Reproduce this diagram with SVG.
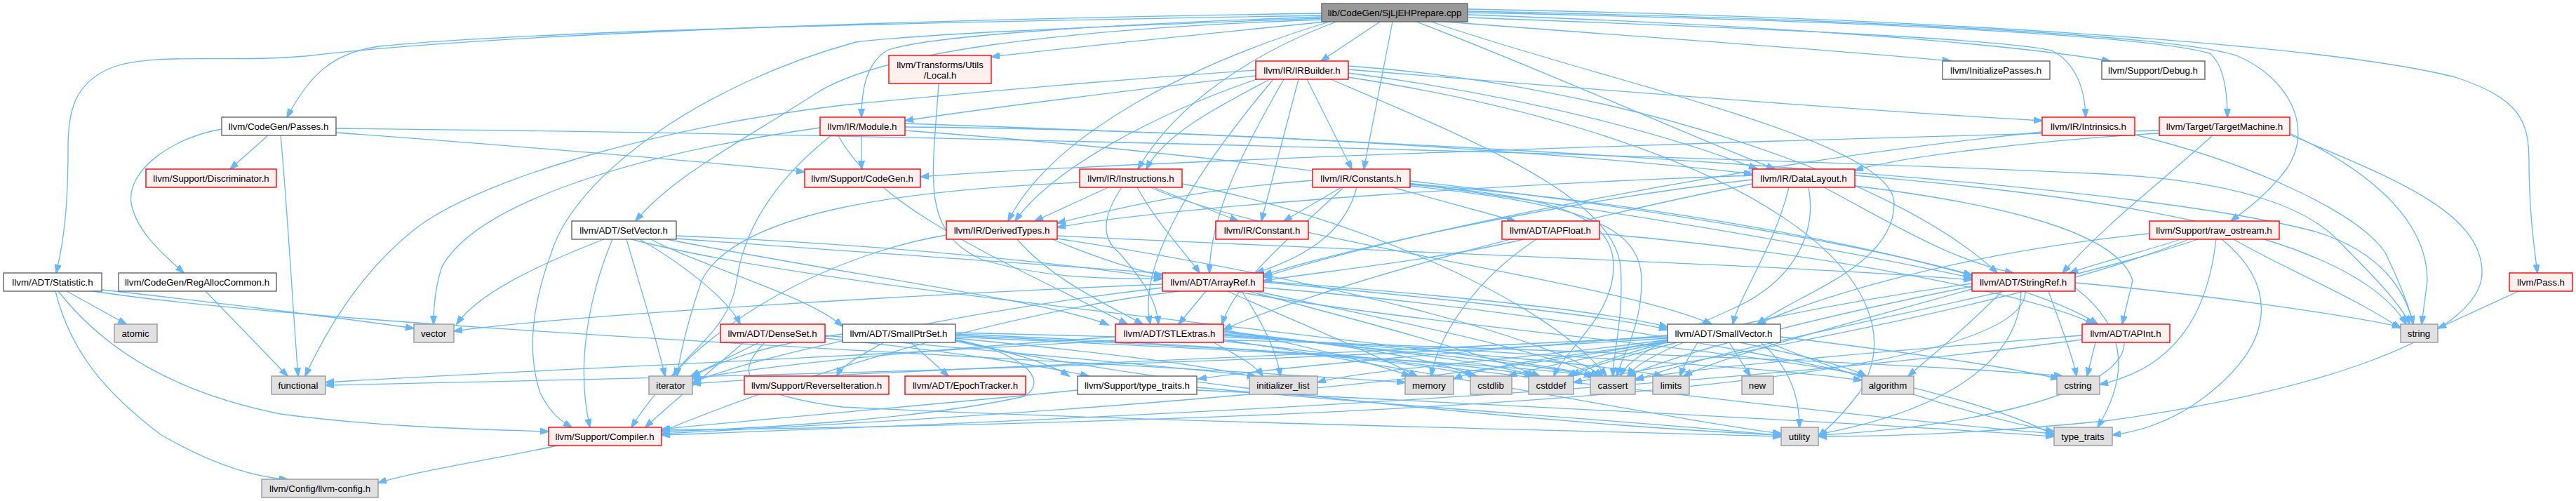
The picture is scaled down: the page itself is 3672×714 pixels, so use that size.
<svg xmlns="http://www.w3.org/2000/svg" width="3672" height="714" viewBox="0 0 3672 714">
<defs>
<style>
.n rect{stroke-width:1.4}
.w rect{fill:#ffffff;stroke:#666666}
.r rect{fill:#fff0f0;stroke:#ff0000}
.g rect{fill:#e0e0e0;stroke:#999999}
.t rect{fill:#999999;stroke:#666666}
text{font-family:"Liberation Sans",Arial,Helvetica,sans-serif;font-size:13.3px;text-anchor:middle;fill:#000000}
#edges path{fill:none;stroke:#63b8ff;stroke-width:1.3;marker-end:url(#a)}
</style>
<marker id="a" markerUnits="userSpaceOnUse" markerWidth="14" markerHeight="10" refX="12" refY="4.5" orient="auto"><path d="M0,0 L13,4.5 L0,9 Z" fill="#63b8ff" stroke="#63b8ff"/></marker>
</defs>
<rect width="3672" height="714" fill="#ffffff"/>
<g id="edges">
<path d="M1884,19 C1300,28 700,48 435,80 C330,90 220,74 160,96 C105,118 97,160 97,210 C97,290 92,340 80,389"/>
<path d="M1884,22 C1300,32 760,44 540,66 C470,76 440,110 409,167"/>
<path d="M1884,28 C1500,42 1250,75 1160,135 C1060,200 960,250 906,315"/>
<path d="M1884,24 C1600,34 1320,50 1264,72 C1236,90 1228,125 1228,167"/>
<path d="M1890,31 C1700,50 1520,68 1413,81"/>
<path d="M1967,31 L1883,87"/>
<path d="M1905,31 C1800,70 1680,140 1622,241"/>
<path d="M1895,31 C1700,90 1500,190 1437,315"/>
<path d="M1985,31 L1944,241"/>
<path d="M2019,31 C2200,100 2400,190 2530,241"/>
<path d="M2060,31 C2300,50 2600,70 2781,87"/>
<path d="M2092,25 C2500,40 2850,55 2925,72 C2962,92 2972,130 2973,167"/>
<path d="M2092,21 C2500,35 2850,60 3008,87"/>
<path d="M2092,18 C2600,28 3050,48 3150,76 C3170,92 3175,130 3175,167"/>
<path d="M2092,16 C2600,26 3100,48 3190,80 C3260,110 3300,180 3260,240 C3230,280 3200,300 3180,315"/>
<path d="M2092,13 C2700,24 3300,60 3500,110 C3590,140 3605,170 3605,230 C3605,300 3612,350 3617,389"/>
<path d="M2040,31 C2300,120 2700,200 2700,290 C2700,380 2560,420 2505,462"/>
<path d="M1884,26 C1500,40 1300,50 1220,60 C1000,120 820,250 786,360 C760,430 750,500 770,560 C785,590 800,600 815,609"/>
<path d="M1790,108 C1600,130 1400,155 1290,172"/>
<path d="M1810,113 C1740,150 1660,190 1634,241"/>
<path d="M1800,110 C1650,160 1500,240 1447,315"/>
<path d="M1863,113 L1927,241"/>
<path d="M1851,113 L1798,315"/>
<path d="M1922,104 C2200,140 2400,200 2505,241"/>
<path d="M1922,99 C2300,130 2700,160 2911,172"/>
<path d="M1790,100 C1500,120 1300,140 1200,150 C950,180 700,250 600,320 C520,380 470,460 435,536"/>
<path d="M1897,113 C2100,200 2300,280 2310,380 C2315,450 2300,500 2299,536"/>
<path d="M1830,113 C1780,200 1725,300 1724,389"/>
<path d="M1815,113 C1700,250 1620,380 1640,462"/>
<path d="M1922,110 C2500,200 2750,400 2650,560 C2620,600 2600,615 2592,622"/>
<path d="M1922,94 C2300,120 2700,250 2847,389"/>
<path d="M1338,119 C1330,250 1310,330 1400,370 C1500,400 1600,397 1657,397"/>
<path d="M382,193 L328,241"/>
<path d="M316,184 C250,195 180,240 187,290 C195,330 230,360 262,389"/>
<path d="M400,193 C410,300 418,450 425,536"/>
<path d="M479,189 C700,205 1000,230 1147,245"/>
<path d="M479,183 C1200,190 2400,220 3000,248 C3200,258 3290,300 3330,340 C3380,390 3420,430 3435,462"/>
<path d="M1228,193 L1228,241"/>
<path d="M1290,181 C1800,185 2300,225 2498,248"/>
<path d="M1169,182 C900,220 680,290 630,380 C620,410 618,440 618,462"/>
<path d="M1185,193 C1100,260 1060,330 1050,400 C1040,470 980,500 960,536"/>
<path d="M1195,193 C1250,300 1450,380 1607,462"/>
<path d="M1290,186 C1900,230 2500,330 2811,396"/>
<path d="M1290,176 C2000,200 3000,250 3300,330 C3400,360 3430,420 3440,462"/>
<path d="M2911,188 C2500,230 2000,330 1801,395"/>
<path d="M3043,192 C3200,230 3360,300 3400,360 C3420,400 3435,440 3440,462"/>
<path d="M3078,190 C2900,200 2700,225 2644,243"/>
<path d="M3078,186 C2500,200 1600,230 1312,252"/>
<path d="M3154,193 C3080,260 3000,320 2940,389"/>
<path d="M3264,190 C3350,230 3460,300 3460,400 L3452,462"/>
<path d="M3264,192 C3400,250 3540,300 3538,390 C3535,480 3300,560 3000,600 C2800,620 2650,622 2592,622"/>
<path d="M3064,333 C2800,360 2600,420 2505,462"/>
<path d="M3109,341 C3050,360 2990,375 2950,389"/>
<path d="M3133,341 C2900,420 2500,480 2331,542"/>
<path d="M3120,341 C2900,430 2500,500 2243,545"/>
<path d="M3159,341 C3150,420 3120,520 2993,548"/>
<path d="M3184,341 C3250,380 3350,420 3422,468"/>
<path d="M3167,341 C3240,400 3250,480 3150,560 C3100,600 3050,615 3011,620"/>
<path d="M3590,415 L3475,468"/>
<path d="M1580,267 L1475,315"/>
<path d="M1645,267 L1765,315"/>
<path d="M1621,267 C1650,320 1690,360 1710,389"/>
<path d="M1599,267 C1570,310 1570,340 1595,360 C1630,400 1650,430 1651,462"/>
<path d="M1640,267 C1800,340 2300,400 2440,462"/>
<path d="M1539,260 C1300,270 1050,300 1000,400 C980,460 970,500 965,536"/>
<path d="M1685,262 C1900,300 2200,420 2290,536"/>
<path d="M1912,267 L1830,315"/>
<path d="M1985,267 L2160,315"/>
<path d="M1871,257 C1700,270 1580,300 1507,318"/>
<path d="M2498,250 C2200,260 1700,290 1507,324"/>
<path d="M2010,262 C2500,300 2900,400 2990,462"/>
<path d="M1934,267 C1920,320 1880,360 1790,389"/>
<path d="M1915,267 C1860,320 1760,400 1742,462"/>
<path d="M2010,258 C2400,300 2700,360 2811,392"/>
<path d="M2010,263 C2200,280 2300,300 2300,380 C2300,450 2230,500 2215,536"/>
<path d="M2010,265 C2250,290 2340,320 2340,400 C2340,470 2310,510 2305,536"/>
<path d="M2498,256 C2200,290 1900,360 1801,392"/>
<path d="M2498,262 C2200,320 1850,420 1744,470"/>
<path d="M2550,267 C2530,350 2480,420 2470,462"/>
<path d="M2600,267 C2700,320 2780,370 2870,389"/>
<path d="M2644,265 C2850,290 3020,330 3040,400 L3025,462"/>
<path d="M2578,267 C2590,330 2560,400 2470,440 C2380,480 2320,510 2310,536"/>
<path d="M2644,250 C3000,280 3350,330 3430,462"/>
<path d="M2280,333 C2600,360 2900,420 2985,462"/>
<path d="M2172,341 C2050,370 1900,385 1801,400"/>
<path d="M2190,341 C2100,400 2050,480 2040,536"/>
<path d="M1500,341 C1570,370 1620,385 1657,393"/>
<path d="M1450,341 C1500,400 1590,440 1629,462"/>
<path d="M1507,336 C2000,360 2600,380 2811,399"/>
<path d="M1349,335 C1200,360 1000,450 900,609"/>
<path d="M1507,340 C1900,400 2200,480 2285,536"/>
<path d="M964,336 C1300,350 1550,380 1657,397"/>
<path d="M912,341 C980,380 1040,430 1055,462"/>
<path d="M928,341 C1000,380 1150,420 1201,465"/>
<path d="M950,341 C1200,390 1500,430 1580,463"/>
<path d="M964,340 C1500,380 2200,420 2377,466"/>
<path d="M873,341 C840,420 820,520 841,609"/>
<path d="M900,341 C1200,420 2000,480 2280,536"/>
<path d="M893,341 C910,400 935,480 948,536"/>
<path d="M861,341 C760,380 680,420 651,462"/>
<path d="M95,415 L180,462"/>
<path d="M145,413 C300,430 500,455 590,468"/>
<path d="M79,415 C100,500 150,560 230,620 C300,660 360,680 410,683"/>
<path d="M83,415 C150,500 250,560 400,590 C550,610 700,612 782,615"/>
<path d="M132,415 C500,470 1500,510 2003,545"/>
<path d="M293,415 L410,536"/>
<path d="M1719,415 L1680,462"/>
<path d="M1801,402 C2000,420 2300,450 2377,470"/>
<path d="M1680,415 C1400,450 1100,550 943,615"/>
<path d="M1760,415 C2000,460 2500,500 2660,536"/>
<path d="M1790,415 C2000,460 2200,500 2280,536"/>
<path d="M1780,415 C1950,460 2100,500 2195,536"/>
<path d="M1770,415 C1800,460 1820,500 1825,536"/>
<path d="M1657,410 C1400,440 1100,500 987,545"/>
<path d="M1750,415 C1850,460 1950,500 2020,536"/>
<path d="M1801,410 C2300,450 2800,550 2928,620"/>
<path d="M1657,405 C1300,420 800,450 647,472"/>
<path d="M1744,480 C2100,500 2500,520 2654,542"/>
<path d="M1744,476 C2000,500 2200,520 2270,536"/>
<path d="M1744,474 C1950,495 2120,515 2190,536"/>
<path d="M1744,472 C1900,490 2050,510 2100,536"/>
<path d="M1590,485 C1200,510 700,530 464,545"/>
<path d="M1730,488 C1760,505 1790,520 1800,536"/>
<path d="M1590,480 C1300,500 1100,520 987,540"/>
<path d="M1744,478 C2050,500 2300,520 2370,536"/>
<path d="M1744,470 C1850,490 1950,515 2010,536"/>
<path d="M1744,486 C2200,540 2700,600 2928,618"/>
<path d="M1744,484 C2100,540 2400,600 2539,618"/>
<path d="M2377,485 C2000,560 1300,600 943,618"/>
<path d="M2377,478 C2100,500 1850,520 1708,540"/>
<path d="M2480,488 C2560,505 2630,520 2660,536"/>
<path d="M2400,488 C2370,500 2330,520 2320,536"/>
<path d="M2390,488 C2330,505 2270,520 2240,536"/>
<path d="M2380,486 C2300,505 2200,520 2150,536"/>
<path d="M2538,480 C2700,500 2850,520 2935,540"/>
<path d="M2377,482 C1800,520 900,540 464,549"/>
<path d="M2377,484 C2200,510 1950,525 1878,545"/>
<path d="M2377,480 C1800,510 1200,530 987,547"/>
<path d="M2420,488 C2410,505 2400,520 2395,536"/>
<path d="M2378,487 C2250,505 2120,520 2072,540"/>
<path d="M2465,488 L2495,536"/>
<path d="M2520,488 C2700,560 2850,600 2928,615"/>
<path d="M2510,488 C2560,530 2565,580 2565,609"/>
<path d="M2968,484 C2400,560 1500,600 943,620"/>
<path d="M2968,478 C2700,500 2450,520 2331,540"/>
<path d="M2987,488 L2975,536"/>
<path d="M3028,488 C3030,560 2800,610 2592,620"/>
<path d="M2854,415 C2800,470 2750,510 2720,536"/>
<path d="M2881,415 C2880,500 2800,580 2592,619"/>
<path d="M2887,415 C2890,550 2000,600 943,613"/>
<path d="M2811,408 C2600,450 2400,500 2320,536"/>
<path d="M2811,404 C2550,440 2300,500 2235,536"/>
<path d="M2920,415 C2940,470 2955,510 2960,536"/>
<path d="M2811,412 C2600,470 2450,510 2400,536"/>
<path d="M2958,403 C3150,420 3350,450 3422,466"/>
<path d="M2958,410 C3050,480 3020,560 2990,609"/>
<path d="M1536,556 C1300,580 1050,600 943,612"/>
<path d="M1706,556 C2200,580 2700,605 2928,622"/>
<path d="M1706,552 C2000,580 2400,605 2539,621"/>
<path d="M1082,488 L985,536"/>
<path d="M1090,488 C1050,530 1050,560 1200,580 C1600,600 2300,615 2539,622"/>
<path d="M1176,482 C1350,500 1480,520 1552,536"/>
<path d="M1060,488 C1000,540 950,580 920,609"/>
<path d="M1176,478 C1400,500 1650,520 1790,536"/>
<path d="M1260,488 C1230,505 1200,520 1193,536"/>
<path d="M1298,488 L1352,536"/>
<path d="M1362,485 C1440,500 1500,520 1524,536"/>
<path d="M1362,484 C1450,500 1500,540 1460,565 C1300,600 1050,612 943,615"/>
<path d="M1362,480 C1800,500 2150,520 2275,536"/>
<path d="M1362,478 C1750,495 2100,515 2185,536"/>
<path d="M1362,476 C1700,490 2000,510 2105,536"/>
<path d="M1362,474 C2000,490 2700,515 2940,536"/>
<path d="M1362,482 C1550,500 1720,520 1790,538"/>
<path d="M1201,476 C1100,490 1020,515 987,538"/>
<path d="M1362,486 C1700,560 2300,610 2539,620"/>
<path d="M795,635 C700,655 600,670 539,688"/>
</g>
<g id="n_top" class="n t"><rect x="1884" y="5" width="208" height="26"/><text x="1988" y="23">lib/CodeGen/SjLjEHPrepare.cpp</text></g>
<g id="n_irbuilder" class="n r"><rect x="1790" y="87" width="132" height="26"/><text x="1856" y="105">llvm/IR/IRBuilder.h</text></g>
<g id="n_initpasses" class="n w"><rect x="2769" y="87" width="153" height="26"/><text x="2845" y="105">llvm/InitializePasses.h</text></g>
<g id="n_debug" class="n w"><rect x="2996" y="87" width="147" height="26"/><text x="3069" y="105">llvm/Support/Debug.h</text></g>
<g id="n_local" class="n r"><rect x="1267" y="79" width="146" height="40"/><text x="1340" y="97">llvm/Transforms/Utils</text><text x="1340" y="112">/Local.h</text></g>
<g id="n_passes" class="n w"><rect x="316" y="167" width="163" height="26"/><text x="397" y="185">llvm/CodeGen/Passes.h</text></g>
<g id="n_module" class="n r"><rect x="1169" y="167" width="121" height="26"/><text x="1229" y="185">llvm/IR/Module.h</text></g>
<g id="n_intrinsics" class="n r"><rect x="2911" y="167" width="132" height="26"/><text x="2977" y="185">llvm/IR/Intrinsics.h</text></g>
<g id="n_targetmachine" class="n r"><rect x="3078" y="167" width="186" height="26"/><text x="3171" y="185">llvm/Target/TargetMachine.h</text></g>
<g id="n_discriminator" class="n r"><rect x="208" y="241" width="186" height="26"/><text x="301" y="259">llvm/Support/Discriminator.h</text></g>
<g id="n_codegen" class="n r"><rect x="1147" y="241" width="165" height="26"/><text x="1229" y="259">llvm/Support/CodeGen.h</text></g>
<g id="n_instructions" class="n r"><rect x="1539" y="241" width="146" height="26"/><text x="1612" y="259">llvm/IR/Instructions.h</text></g>
<g id="n_constants" class="n r"><rect x="1871" y="241" width="139" height="26"/><text x="1940" y="259">llvm/IR/Constants.h</text></g>
<g id="n_datalayout" class="n r"><rect x="2498" y="241" width="146" height="26"/><text x="2571" y="259">llvm/IR/DataLayout.h</text></g>
<g id="n_setvector" class="n w"><rect x="815" y="315" width="149" height="26"/><text x="889" y="333">llvm/ADT/SetVector.h</text></g>
<g id="n_derivedtypes" class="n r"><rect x="1349" y="315" width="158" height="26"/><text x="1428" y="333">llvm/IR/DerivedTypes.h</text></g>
<g id="n_constant" class="n r"><rect x="1733" y="315" width="132" height="26"/><text x="1799" y="333">llvm/IR/Constant.h</text></g>
<g id="n_apfloat" class="n r"><rect x="2141" y="315" width="139" height="26"/><text x="2210" y="333">llvm/ADT/APFloat.h</text></g>
<g id="n_rawostream" class="n r"><rect x="3064" y="315" width="185" height="26"/><text x="3156" y="333">llvm/Support/raw_ostream.h</text></g>
<g id="n_statistic" class="n w"><rect x="5" y="389" width="140" height="26"/><text x="75" y="407">llvm/ADT/Statistic.h</text></g>
<g id="n_regalloc" class="n w"><rect x="169" y="389" width="225" height="26"/><text x="281" y="407">llvm/CodeGen/RegAllocCommon.h</text></g>
<g id="n_arrayref" class="n r"><rect x="1657" y="389" width="144" height="26"/><text x="1729" y="407">llvm/ADT/ArrayRef.h</text></g>
<g id="n_stringref" class="n r"><rect x="2811" y="389" width="147" height="26"/><text x="2884" y="407">llvm/ADT/StringRef.h</text></g>
<g id="n_pass" class="n r"><rect x="3577" y="389" width="90" height="26"/><text x="3622" y="407">llvm/Pass.h</text></g>
<g id="n_atomic" class="n g"><rect x="163" y="462" width="61" height="26"/><text x="193" y="480">atomic</text></g>
<g id="n_vector" class="n g"><rect x="590" y="462" width="57" height="26"/><text x="618" y="480">vector</text></g>
<g id="n_denseset" class="n r"><rect x="1027" y="462" width="149" height="26"/><text x="1101" y="480">llvm/ADT/DenseSet.h</text></g>
<g id="n_smallptrset" class="n w"><rect x="1201" y="462" width="161" height="26"/><text x="1281" y="480">llvm/ADT/SmallPtrSet.h</text></g>
<g id="n_stlextras" class="n r"><rect x="1590" y="462" width="154" height="26"/><text x="1667" y="480">llvm/ADT/STLExtras.h</text></g>
<g id="n_smallvector" class="n w"><rect x="2377" y="462" width="161" height="26"/><text x="2457" y="480">llvm/ADT/SmallVector.h</text></g>
<g id="n_apint" class="n r"><rect x="2968" y="462" width="125" height="26"/><text x="3030" y="480">llvm/ADT/APInt.h</text></g>
<g id="n_string" class="n g"><rect x="3422" y="462" width="53" height="26"/><text x="3448" y="480">string</text></g>
<g id="n_functional" class="n g"><rect x="387" y="536" width="77" height="26"/><text x="425" y="554">functional</text></g>
<g id="n_iterator" class="n g"><rect x="925" y="536" width="62" height="26"/><text x="956" y="554">iterator</text></g>
<g id="n_reverseiter" class="n r"><rect x="1061" y="536" width="206" height="26"/><text x="1164" y="554">llvm/Support/ReverseIteration.h</text></g>
<g id="n_epoch" class="n r"><rect x="1290" y="536" width="172" height="26"/><text x="1376" y="554">llvm/ADT/EpochTracker.h</text></g>
<g id="n_typetraitsh" class="n w"><rect x="1536" y="536" width="170" height="26"/><text x="1621" y="554">llvm/Support/type_traits.h</text></g>
<g id="n_initlist" class="n g"><rect x="1781" y="536" width="97" height="26"/><text x="1829" y="554">initializer_list</text></g>
<g id="n_memory" class="n g"><rect x="2003" y="536" width="69" height="26"/><text x="2037" y="554">memory</text></g>
<g id="n_cstdlib" class="n g"><rect x="2096" y="536" width="59" height="26"/><text x="2125" y="554">cstdlib</text></g>
<g id="n_cstddef" class="n g"><rect x="2179" y="536" width="64" height="26"/><text x="2211" y="554">cstddef</text></g>
<g id="n_cassert" class="n g"><rect x="2267" y="536" width="64" height="26"/><text x="2299" y="554">cassert</text></g>
<g id="n_limits" class="n g"><rect x="2356" y="536" width="52" height="26"/><text x="2382" y="554">limits</text></g>
<g id="n_new" class="n g"><rect x="2483" y="536" width="45" height="26"/><text x="2505" y="554">new</text></g>
<g id="n_algorithm" class="n g"><rect x="2654" y="536" width="74" height="26"/><text x="2691" y="554">algorithm</text></g>
<g id="n_cstring" class="n g"><rect x="2932" y="536" width="61" height="26"/><text x="2962" y="554">cstring</text></g>
<g id="n_compiler" class="n r"><rect x="782" y="609" width="161" height="26"/><text x="862" y="627">llvm/Support/Compiler.h</text></g>
<g id="n_utility" class="n g"><rect x="2539" y="609" width="53" height="26"/><text x="2565" y="627">utility</text></g>
<g id="n_typetraits" class="n g"><rect x="2928" y="609" width="83" height="26"/><text x="2969" y="627">type_traits</text></g>
<g id="n_llvmconfig" class="n g"><rect x="373" y="683" width="166" height="26"/><text x="456" y="701">llvm/Config/llvm-config.h</text></g>
</svg>
